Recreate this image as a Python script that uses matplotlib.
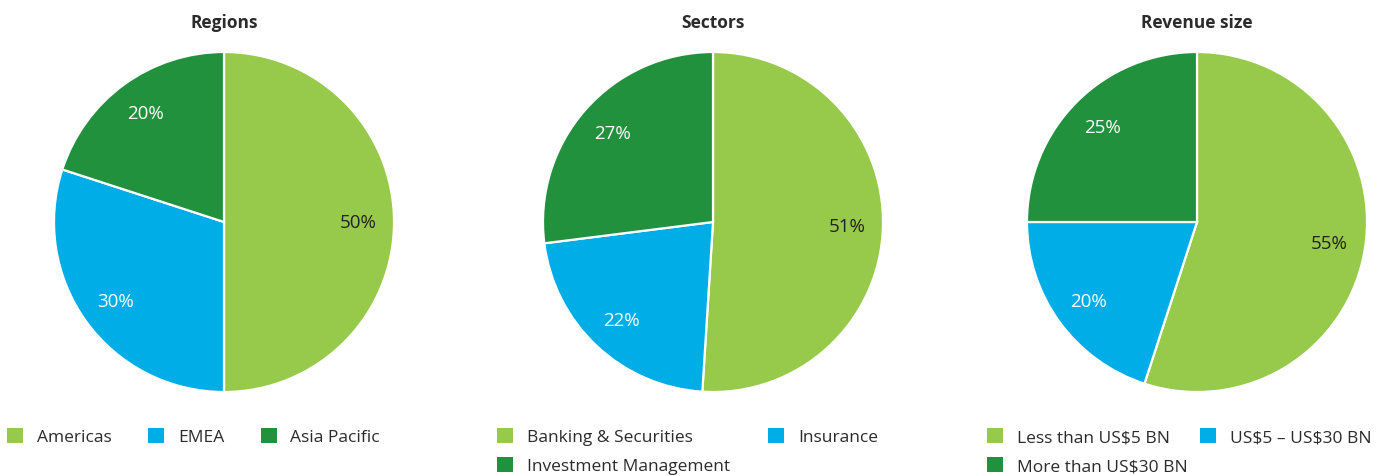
import matplotlib.pyplot as plt
from matplotlib.patches import Patch

plt.rcParams['font.family'] = ['Open Sans', 'DejaVu Sans']
plt.rcParams['text.parse_math'] = False

# data
regions_labels = ['Americas', 'EMEA', 'Asia Pacific']
regions_vals = [50, 30, 20]
sectors_labels = ['Banking & Securities', 'Insurance', 'Investment Management']
sectors_vals = [51, 22, 27]
revenue_labels = ['Less than US$5 BN', 'US$5 – US$30 BN', 'More than US$30 BN']
revenue_vals = [55, 20, 25]

titles = ['Regions', 'Sectors', 'Revenue size']
colors = ['#97CA4B', '#00ADE6', '#21913D']
pct_colors = ['#222222', 'white', 'white']
text_col = '#2B2B2B'

W, H = 1391, 477
fig = plt.figure(figsize=(W / 100, H / 100), dpi=100)

centers = [224, 713, 1197]
R = 170
cy = 223

charts = [(regions_labels, regions_vals, 3, 2.1, 7),
          (sectors_labels, sectors_vals, 2, 2.2, 497),
          (revenue_labels, revenue_vals, 2, 0.7, 987)]

for i, (labels, vals, ncol, colsp, lx) in enumerate(charts):
    ax = fig.add_axes([(centers[i] - R) / W, (H - cy - R) / H, 2 * R / W, 2 * R / H])
    wedges, _, autotexts = ax.pie(vals, colors=colors, startangle=90, counterclock=False,
                                  autopct=lambda p: f'{p:.0f}%', pctdistance=0.79,
                                  wedgeprops=dict(edgecolor='white', linewidth=1.6))
    for t, c in zip(autotexts, pct_colors):
        t.set_color(c)
        t.set_fontsize(13.5)
    ax.set_xlim(-1, 1)
    ax.set_ylim(-1, 1)
    ax.set_aspect('equal')
    ax.set_title(titles[i], fontsize=12.5, fontweight='bold', color=text_col, pad=18)

    handles = [Patch(facecolor=c, edgecolor='none') for c in colors]
    labs = list(labels)
    if ncol == 2:
        # matplotlib fills legends column-wise, reorder for row-wise look
        handles = [handles[0], handles[2], handles[1]]
        labs = [labs[0], labs[2], labs[1]]
    fig.legend(handles, labs, loc='upper left', bbox_to_anchor=(lx / W, 1 - 429 / H),
               ncol=ncol, frameon=False, fontsize=12.5, labelcolor=text_col,
               handlelength=0.92, handleheight=0.92, handletextpad=0.8,
               columnspacing=colsp, labelspacing=0.68, borderpad=0, borderaxespad=0)

fig.savefig('out.png', dpi=100)
